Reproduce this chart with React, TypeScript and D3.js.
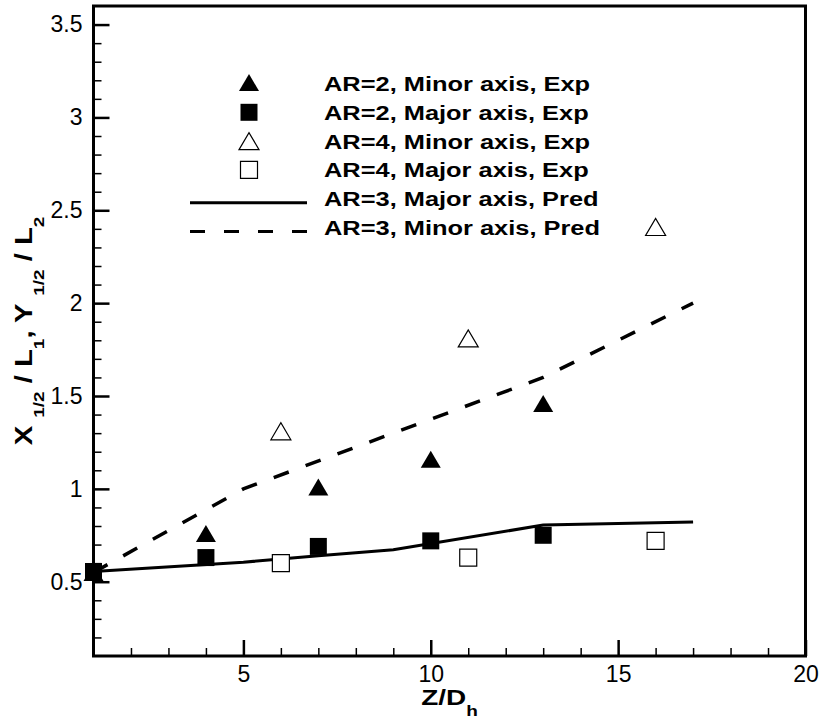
import React, { useEffect, useRef } from "react";
import * as d3 from "d3";

// experimental points
const ar2Z = [1, 4, 7, 10, 13];
const ar2Minor = [0.55, 0.76, 1.01, 1.16, 1.46];
const ar2Major = [0.555, 0.63, 0.69, 0.72, 0.75];
const ar4Z = [6, 11, 16];
const ar4Minor = [1.31, 1.81, 2.41];
const ar4Major = [0.6, 0.63, 0.72];

// predictions, AR=3
const predMajorZ = [1, 5, 7, 9, 13, 17];
const predMajor = [0.555, 0.605, 0.64, 0.672, 0.805, 0.822];
const predMinorZ = [1, 5, 9, 13, 17];
const predMinor = [0.55, 1.0, 1.3, 1.6, 2.0];

const xTicks = [5, 10, 15, 20];
const yTicks = [0.5, 1, 1.5, 2, 2.5, 3, 3.5];
const legendLabels = [
  "AR=2, Minor axis, Exp",
  "AR=2, Major axis, Exp",
  "AR=4, Minor axis, Exp",
  "AR=4, Major axis, Exp",
  "AR=3, Major axis, Pred",
  "AR=3, Minor axis, Pred",
];

const FONT = "'Liberation Sans', Arial, sans-serif";

const triPath = (cx: number, cy: number) =>
  `M${cx - 10},${cy + 8.5}L${cx + 10},${cy + 8.5}L${cx},${cy - 8.5}Z`;
const sqPath = (cx: number, cy: number) =>
  `M${cx - 8.5},${cy - 8.5}h17v17h-17Z`;

export default function App() {
  const ref = useRef<SVGSVGElement>(null);

  useEffect(() => {
    const width = 819;
    const height = 720;
    const svg = d3.select(ref.current);
    svg.selectAll("*").remove();
    svg.attr("width", width).attr("height", height);

    const left = 93.5, right = 805.5, top = 6, bottom = 656;
    const x = d3.scaleLinear().domain([1, 20]).range([left, right]);
    const y = d3.scaleLinear().domain([0.1, 3.6]).range([bottom, top]);

    // minor ticks
    const xMinor = d3.range(2, 20).filter((v) => v % 5 !== 0);
    const yMinor = d3.range(2, 36).map((v) => v / 10).filter((v) => Math.round(v * 10) % 5 !== 0);

    svg.append("g")
      .attr("transform", `translate(0,${bottom})`)
      .call(d3.axisBottom(x).tickValues(xMinor).tickSize(-8).tickFormat(() => ""))
      .call((g) => g.select(".domain").remove())
      .call((g) => g.selectAll("line").attr("stroke", "#000").attr("stroke-width", 1.5));

    svg.append("g")
      .attr("transform", `translate(${left},0)`)
      .call(d3.axisLeft(y).tickValues(yMinor).tickSize(-8).tickFormat(() => ""))
      .call((g) => g.select(".domain").remove())
      .call((g) => g.selectAll("line").attr("stroke", "#000").attr("stroke-width", 1.5));

    svg.append("g")
      .attr("transform", `translate(0,${bottom})`)
      .call(d3.axisBottom(x).tickValues(xTicks).tickSize(-16).tickPadding(10).tickFormat(d3.format("d")))
      .call((g) => g.select(".domain").remove())
      .call((g) => g.selectAll("line").attr("stroke", "#000").attr("stroke-width", 2.5))
      .call((g) => g.selectAll("text").attr("font-size", 23).attr("font-family", FONT).attr("fill", "#000"));

    svg.append("g")
      .attr("transform", `translate(${left},0)`)
      .call(d3.axisLeft(y).tickValues(yTicks).tickSize(-16).tickPadding(11).tickFormat((d) => String(d)))
      .call((g) => g.select(".domain").remove())
      .call((g) => g.selectAll("line").attr("stroke", "#000").attr("stroke-width", 2.5))
      .call((g) => g.selectAll("text").attr("font-size", 23).attr("font-family", FONT).attr("fill", "#000"));

    // frame
    svg.append("rect")
      .attr("x", left).attr("y", top)
      .attr("width", right - left).attr("height", bottom - top)
      .attr("fill", "none").attr("stroke", "#000").attr("stroke-width", 3);

    // prediction lines
    const line = d3.line<[number, number]>().x((d) => x(d[0])).y((d) => y(d[1]));
    svg.append("path")
      .attr("d", line(predMajorZ.map((z, i) => [z, predMajor[i]] as [number, number])))
      .attr("fill", "none").attr("stroke", "#000").attr("stroke-width", 3);
    svg.append("path")
      .attr("d", line(predMinorZ.map((z, i) => [z, predMinor[i]] as [number, number])))
      .attr("fill", "none").attr("stroke", "#000").attr("stroke-width", 3.5)
      .attr("stroke-dasharray", "16 18");

    // experimental markers
    const pts = svg.append("g");
    ar4Z.forEach((z, i) => {
      pts.append("path").attr("d", triPath(x(z), y(ar4Minor[i])))
        .attr("fill", "#fff").attr("stroke", "#000").attr("stroke-width", 1.2);
      pts.append("path").attr("d", sqPath(x(z), y(ar4Major[i])))
        .attr("fill", "#fff").attr("stroke", "#000").attr("stroke-width", 1.2);
    });
    ar2Z.forEach((z, i) => {
      pts.append("path").attr("d", triPath(x(z), y(ar2Minor[i]))).attr("fill", "#000");
    });
    ar2Z.forEach((z, i) => {
      pts.append("path").attr("d", sqPath(x(z), y(ar2Major[i]))).attr("fill", "#000");
    });

    // legend
    const leg = svg.append("g");
    const rowY = (i: number) => 83.5 + i * 28.8;
    legendLabels.forEach((label, i) => {
      const cy = rowY(i);
      const sx = 249;
      if (i === 0) leg.append("path").attr("d", triPath(sx, cy - 1)).attr("fill", "#000");
      if (i === 1) leg.append("path").attr("d", sqPath(sx, cy)).attr("fill", "#000");
      if (i === 2) leg.append("path").attr("d", triPath(sx, cy)).attr("fill", "#fff").attr("stroke", "#000").attr("stroke-width", 1.2);
      if (i === 3) leg.append("path").attr("d", sqPath(sx, cy)).attr("fill", "#fff").attr("stroke", "#000").attr("stroke-width", 1.2);
      if (i >= 4) {
        leg.append("line")
          .attr("x1", 190).attr("x2", 307).attr("y1", cy + 4).attr("y2", cy + 4)
          .attr("stroke", "#000").attr("stroke-width", 3)
          .attr("stroke-dasharray", i === 5 ? "15 19" : null);
      }
      leg.append("g")
        .attr("transform", `translate(324,${cy + 7.5}) scale(1.27,1)`)
        .append("text")
        .attr("font-family", FONT).attr("font-weight", "bold").attr("font-size", 20)
        .text(label);
    });

    // axis titles
    const xt = svg.append("g")
      .attr("transform", `translate(${(left + right) / 2},705) scale(1.27,1)`)
      .append("text")
      .attr("text-anchor", "middle")
      .attr("font-family", FONT).attr("font-weight", "bold").attr("font-size", 22);
    xt.append("tspan").text("Z/D");
    xt.append("tspan").attr("font-size", 15).attr("dy", 11).text("h");

    const yt = svg.append("g")
      .attr("transform", `translate(32,${(top + bottom) / 2}) rotate(-90) scale(1.27,1)`)
      .append("text")
      .attr("text-anchor", "middle")
      .attr("font-family", FONT).attr("font-weight", "bold").attr("font-size", 23);
    const parts: [string, boolean][] = [
      ["X ", false], ["1/2", true], [" / L", false], ["1", true],
      [",  Y ", false], ["1/2", true], [" / L", false], ["2", true],
    ];
    let sub = false;
    parts.forEach(([t, s]) => {
      const ts = yt.append("tspan").text(t);
      if (s) ts.attr("font-size", 15);
      if (s && !sub) ts.attr("dy", 12);
      if (!s && sub) ts.attr("dy", -12);
      sub = s;
    });
  }, []);

  return (
    <div style={{ position: "absolute", left: 0, top: 0 }}>
      <svg ref={ref} style={{ display: "block" }}></svg>
    </div>
  );
}
